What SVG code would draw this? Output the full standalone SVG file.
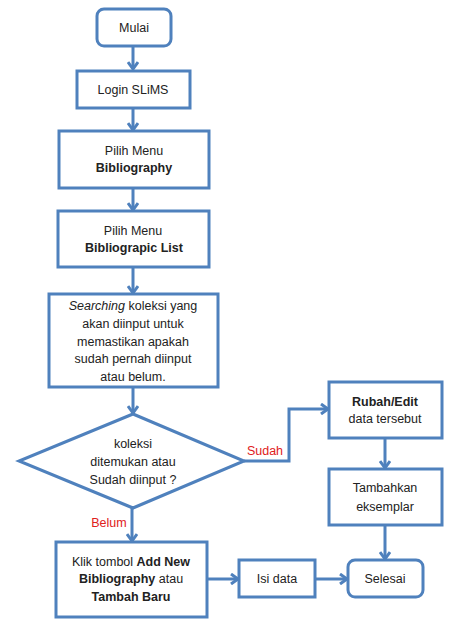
<svg xmlns="http://www.w3.org/2000/svg" width="453" height="625" viewBox="0 0 453 625">
<defs>
<marker id="arr" markerWidth="12" markerHeight="12" refX="9" refY="6" orient="auto" markerUnits="userSpaceOnUse">
<polyline points="2,1 9,6 2,11" fill="none" stroke="#4f81bd" stroke-width="3" stroke-linejoin="miter"/>
</marker>
</defs>
<style>
.s{fill:#fff;stroke:#4f81bd;stroke-width:3}
.c{fill:none;stroke:#4f81bd;stroke-width:3}
text{font-family:"Liberation Sans",Arial,sans-serif;font-size:12.5px;fill:#222;text-anchor:middle}
.b{font-weight:bold}
.i{font-style:italic}
.r{fill:#e0201b}
</style>
<rect width="453" height="625" fill="#fff"/>
<g id="connectors">
<line class="c" x1="133" y1="46" x2="133" y2="69" marker-end="url(#arr)"/>
<line class="c" x1="133" y1="108" x2="133" y2="130" marker-end="url(#arr)"/>
<line class="c" x1="133" y1="188" x2="133" y2="210" marker-end="url(#arr)"/>
<line class="c" x1="133" y1="267" x2="133" y2="293" marker-end="url(#arr)"/>
<line class="c" x1="133" y1="387" x2="133" y2="413" marker-end="url(#arr)"/>
<line class="c" x1="132" y1="508" x2="132" y2="541" marker-end="url(#arr)"/>
<polyline class="c" points="244,461 289,461 289,409 328,409" marker-end="url(#arr)"/>
<line class="c" x1="385" y1="438" x2="385" y2="468" marker-end="url(#arr)"/>
<line class="c" x1="385" y1="525" x2="385" y2="559" marker-end="url(#arr)"/>
<line class="c" x1="207" y1="579" x2="238" y2="579" marker-end="url(#arr)"/>
<line class="c" x1="315" y1="579" x2="347" y2="579" marker-end="url(#arr)"/>
<text class="r" x="265" y="455">Sudah</text>
<text class="r" x="109" y="527">Belum</text>
</g>
<g id="mulai">
<rect class="s" x="97" y="9" width="74" height="37" rx="7"/>
<text x="134" y="32">Mulai</text>
</g>
<g id="login">
<rect class="s" x="77" y="71" width="113" height="37"/>
<text x="133" y="94">Login SLiMS</text>
</g>
<g id="menu-bib">
<rect class="s" x="59" y="131" width="150" height="57"/>
<text x="134" y="155">Pilih Menu</text>
<text class="b" x="134" y="172">Bibliography</text>
</g>
<g id="menu-list">
<rect class="s" x="58" y="211" width="151" height="56"/>
<text x="133" y="235">Pilih Menu</text>
<text class="b" x="134" y="252">Bibliograpic List</text>
</g>
<g id="searching">
<rect class="s" x="49" y="294" width="169" height="93"/>
<text x="133" y="310"><tspan class="i">Searching</tspan> koleksi yang</text>
<text x="133" y="328">akan diinput untuk</text>
<text x="133" y="346">memastikan apakah</text>
<text x="133" y="363">sudah pernah diinput</text>
<text x="133" y="381">atau belum.</text>
</g>
<g id="decision">
<polygon class="s" points="133,414 244,461 133,508 19,461"/>
<text x="133" y="448">koleksi</text>
<text x="133" y="466">ditemukan atau</text>
<text x="133" y="484">Sudah diinput ?</text>
</g>
<g id="rubah">
<rect class="s" x="329" y="382" width="113" height="56"/>
<text class="b" x="385" y="406">Rubah/Edit</text>
<text x="385" y="423">data tersebut</text>
</g>
<g id="tambahkan">
<rect class="s" x="329" y="469" width="113" height="56"/>
<text x="385" y="492">Tambahkan</text>
<text x="385" y="511">eksemplar</text>
</g>
<g id="klik">
<rect class="s" x="56" y="542" width="151" height="75"/>
<text x="131" y="566">Klik tombol <tspan class="b">Add New</tspan></text>
<text x="131" y="583"><tspan class="b">Bibliography</tspan> atau</text>
<text class="b" x="131" y="601">Tambah Baru</text>
</g>
<g id="isi">
<rect class="s" x="239" y="560" width="76" height="37"/>
<text x="277" y="583">Isi data</text>
</g>
<g id="selesai">
<rect class="s" x="348" y="560" width="75" height="37" rx="7"/>
<text x="385" y="583">Selesai</text>
</g>
</svg>
